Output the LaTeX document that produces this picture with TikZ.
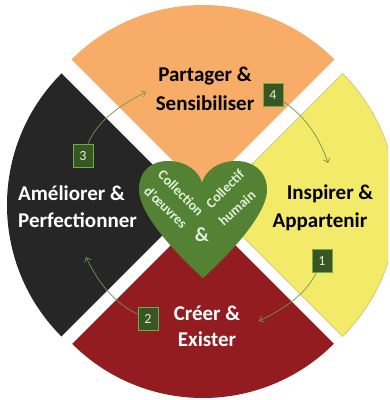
\documentclass[tikz,border=0pt]{standalone}
\usepackage{fontspec}
\setmainfont{Carlito}
\usetikzlibrary{arrows.meta}
\definecolor{corange}{HTML}{F7AD68}
\definecolor{cyellow}{HTML}{F3EA69}
\definecolor{cyelline}{HTML}{C8C070}
\definecolor{cred}{HTML}{921C1F}
\definecolor{cblack}{HTML}{262626}
\definecolor{cheart}{HTML}{548235}
\definecolor{cbox}{HTML}{375623}
\definecolor{cboxline}{HTML}{70AD47}
\definecolor{carrow}{HTML}{6A9A4A}
\definecolor{clight}{HTML}{E2F0D9}
\begin{document}
\begin{tikzpicture}[x=1pt,y=1pt,
  lbl/.style={font=\fontsize{21}{23}\selectfont\bfseries, inner sep=0pt},
  htxt/.style={font=\fontsize{14}{16}\selectfont\bfseries, text=clight, inner sep=0pt},
  numbox/.style={draw=cboxline, line width=0.8pt, fill=cbox, text=clight,
    minimum width=20pt, minimum height=23pt, inner sep=0pt,
    font=\fontsize{14}{16}\selectfont},
  arr/.style={draw=carrow, line width=0.7pt, -{Straight Barb[length=4pt,width=7pt]}, looseness=0.87}]
\useasboundingbox (0,0) rectangle (390,400);
% sectors
\fill[corange] (203,209) -- ++(45:186) arc[start angle=45,end angle=135,radius=186] -- cycle;
\fill[cblack] (193,195) -- ++(135:186) arc[start angle=135,end angle=225,radius=186] -- cycle;
\fill[cred] (203,187) -- ++(225:185) arc[start angle=225,end angle=315,radius=185] -- cycle;
\begin{scope}
\clip (0,0) rectangle (388,400);
\filldraw[fill=cyellow, draw=cyelline, line width=0.6pt] (211,195) -- ++(-45:186) arc[start angle=-45,end angle=45,radius=186] -- cycle;
\end{scope}
% heart
\fill[cheart] (203,122) .. controls (196,128) and (139,180) .. (139,210)
  .. controls (139,230) and (152,239) .. (168,239)
  .. controls (186,239) and (199,229) .. (202,217)
  .. controls (205,229) and (218,239) .. (236,239)
  .. controls (252,239) and (267,230) .. (267,210)
  .. controls (267,180) and (210,128) .. (203,122) -- cycle;
\node[htxt, rotate=-45] (hc1) at (181,207) {Collection};
\node[htxt, rotate=-44] (hc2) at (166,193) {d’œuvres};
\node[htxt, rotate=45] (hh1) at (225,211) {Collectif};
\node[htxt, rotate=42] (hh2) at (237,192) {humain};
\node[font=\fontsize{20}{22}\selectfont\bfseries, text=clight, inner sep=0pt] (amp) at (202,165) {\&};
% labels
\node[lbl] (p1) at (205,324) {Partager \&};
\node[lbl] (p2) at (205,297) {Sensibiliser};
\node[lbl] (i1) at (330,206) {Inspirer \&};
\node[lbl] (i2) at (320,178) {Appartenir};
\node[lbl, text=white, anchor=west] (a1) at (18,207) {Améliorer \&};
\node[lbl, text=white, anchor=west] (a2) at (18,180) {Perfectionner};
\node[lbl, text=white] (c1) at (207,87) {Créer \&};
\node[lbl, text=white] (c2) at (207,61) {Exister};
% number boxes
\node[numbox] (n4) at (273,305) {4};
\node[numbox] (n1) at (322,139) {1};
\node[numbox] (n2) at (148,81) {2};
\node[numbox] (n3) at (83,244) {3};
\coordinate (e4) at (328,237);
\coordinate (e1) at (259,79);
\coordinate (e2) at (86,143);
\coordinate (e3) at (146,308);
\draw[arr] (n4) to[out=-33,in=108] (e4);
\draw[arr] (n1) to[out=-116,in=26] (e1);
\draw[arr] (n2) to[out=155,in=-65] (e2);
\draw[arr] (n3) to[out=68,in=207] (e3);
\end{tikzpicture}
\end{document}
